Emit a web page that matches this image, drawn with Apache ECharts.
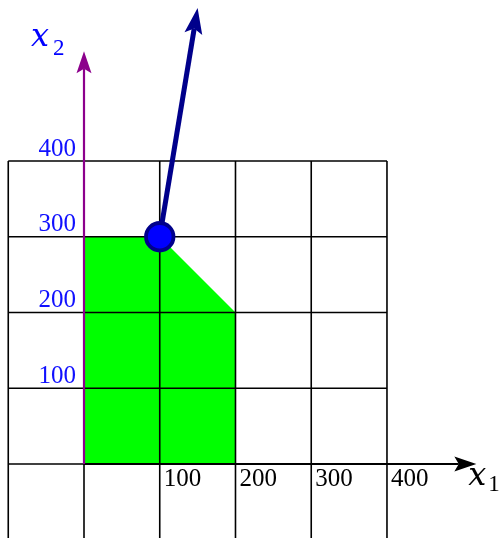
<!DOCTYPE html>
<html><head><meta charset="utf-8">
<script src="https://cdn.jsdelivr.net/npm/echarts@6/dist/echarts.min.js"></script>
<style>html,body{margin:0;padding:0;background:#fff}#c{width:504px;height:538px}</style>
</head><body><div id="c"></div>
<script>
// ---- data ----
const gridX = [-100, 0, 100, 200, 300, 400];
const gridY = [-100, 0, 100, 200, 300, 400];
const feasibleRegion = [[0, 0], [0, 300], [100, 300], [200, 200], [200, 0]];
const optimum = [100, 300];
const gradientTip = [150, 602];
const axisOrigin = [0, 0];
const axisX1End = [518, 0];
const axisX2End = [0, 545];
const xTickValues = [100, 200, 300, 400];
const xTickLabels = ['100', '200', '300', '400'];
const yTickValues = [100, 200, 300, 400];
const yTickLabels = ['100', '200', '300', '400'];

const chart = echarts.init(document.getElementById('c'), null, {renderer: 'canvas'});

function arrow(p0, p1, len, wid, lw, color) {
  const dx = p1[0] - p0[0], dy = p1[1] - p0[1];
  const d = Math.hypot(dx, dy), ux = dx / d, uy = dy / d, px = -uy, py = ux;
  const bx = p1[0] - ux * len, by = p1[1] - uy * len;
  const nx = p1[0] - ux * len * 0.8, ny = p1[1] - uy * len * 0.8;
  return [
    {type: 'line', shape: {x1: p0[0], y1: p0[1], x2: nx, y2: ny}, style: {stroke: color, lineWidth: lw}},
    {type: 'polygon', shape: {points: [[p1[0], p1[1]], [bx + px * wid / 2, by + py * wid / 2], [nx, ny], [bx - px * wid / 2, by - py * wid / 2]]}, style: {fill: color}}
  ];
}

const serif = '"Liberation Serif", "Times New Roman", serif';
const italic = '"DejaVu Serif", serif';

chart.setOption({
  animation: false,
  grid: {left: 0, right: 0, top: 0, bottom: 0},
  xAxis: {type: 'value', min: -110.9, max: 554.5, show: false},
  yAxis: {type: 'value', min: -97.7, max: 612.5, show: false},
  series: [
    { // feasible region
      type: 'custom', silent: true, data: [[0, 0]],
      renderItem: (params, api) => ({
        type: 'polygon',
        shape: {points: feasibleRegion.map(p => api.coord(p))},
        style: {fill: '#00ff00'}
      })
    },
    { // grid lines
      type: 'custom', silent: true, data: [[0, 0]],
      renderItem: (params, api) => {
        const ch = [];
        gridX.forEach(v => {
          const a = api.coord([v, gridY[0] - 20]), b = api.coord([v, gridY[gridY.length - 1]]);
          ch.push({type: 'line', shape: {x1: a[0], y1: a[1], x2: b[0], y2: b[1]}, style: {stroke: '#000', lineWidth: 1.6}});
        });
        gridY.forEach(v => {
          const a = api.coord([gridX[0], v]), b = api.coord([gridX[gridX.length - 1], v]);
          ch.push({type: 'line', shape: {x1: a[0], y1: a[1], x2: b[0], y2: b[1]}, style: {stroke: '#000', lineWidth: 1.6}});
        });
        return {type: 'group', children: ch};
      }
    },
    { // axes arrows
      type: 'custom', silent: true, data: [[0, 0]],
      renderItem: (params, api) => {
        const o = api.coord(axisOrigin);
        return {type: 'group', children: [
          ...arrow(o, api.coord(axisX1End), 22, 15, 2.2, '#000'),
          ...arrow(o, api.coord(axisX2End), 22, 15, 2.2, '#8c008c')
        ]};
      }
    },
    { // gradient arrow
      type: 'custom', silent: true, data: [[0, 0]],
      renderItem: (params, api) => ({type: 'group', children: arrow(api.coord(optimum), api.coord(gradientTip), 26, 18, 5, '#00008b')})
    },
    { // optimum point
      type: 'scatter', silent: true, data: [optimum], symbol: 'circle', symbolSize: 27.5,
      itemStyle: {color: '#0000ff', borderColor: '#00008b', borderWidth: 3.8, opacity: 1}
    },
    { // labels
      type: 'custom', silent: true, data: [[0, 0]],
      renderItem: (params, api) => {
        const ch = [];
        yTickValues.forEach((v, i) => {
          const p = api.coord([0, v]);
          ch.push({type: 'text', style: {text: yTickLabels[i], x: p[0] - 8, y: p[1] - 12, fill: '#1010ff', font: '25px ' + serif, align: 'right', verticalAlign: 'middle'}});
        });
        xTickValues.forEach((v, i) => {
          const p = api.coord([v, 0]);
          ch.push({type: 'text', style: {text: xTickLabels[i], x: p[0] + 4, y: p[1] + 15, fill: '#000', font: '25px ' + serif, align: 'left', verticalAlign: 'middle'}});
        });
        const e1 = api.coord(axisX1End), e2 = api.coord(axisX2End);
        ch.push({type: 'text', style: {text: 'x', x: e1[0] - 8, y: e1[1] + 13, fill: '#000', font: 'italic 32px ' + italic, align: 'left', verticalAlign: 'middle'}});
        ch.push({type: 'text', style: {text: '1', x: e1[0] + 12, y: e1[1] + 21, fill: '#000', font: '23px ' + serif, align: 'left', verticalAlign: 'middle'}});
        ch.push({type: 'text', style: {text: 'x', x: e2[0] - 53, y: e2[1] - 13, fill: '#0000ff', font: 'italic 32px ' + italic, align: 'left', verticalAlign: 'middle'}});
        ch.push({type: 'text', style: {text: '2', x: e2[0] - 31, y: e2[1] - 2, fill: '#0000ff', font: '23px ' + serif, align: 'left', verticalAlign: 'middle'}});
        return {type: 'group', children: ch};
      }
    }
  ]
});
</script>
</body></html>
